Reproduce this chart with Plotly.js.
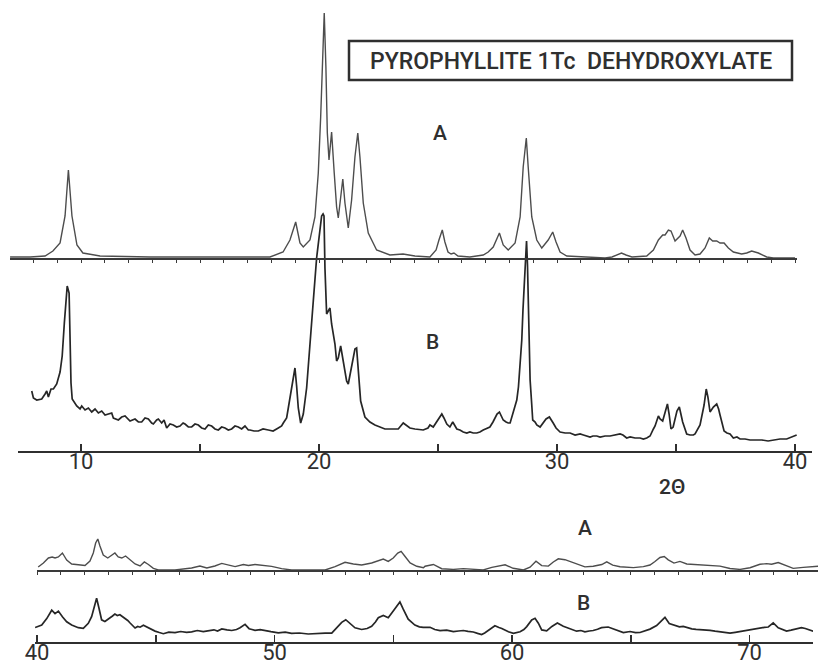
<!DOCTYPE html>
<html>
<head>
<meta charset="utf-8">
<script src="https://cdn.plot.ly/plotly-3.0.1.min.js"></script>
<style>html,body{margin:0;padding:0;background:#fff}#chart{width:819px;height:664px}</style>
</head>
<body>
<div id="chart"></div>
<script>
// ---- data: [2theta, intensity above own baseline] ----
var calcA_low = [[7.02,1],[7.86,1],[8.49,2],[8.82,7],[9.12,15],[9.33,42],[9.47,88],[9.62,42],[9.83,13],[10.08,5],[10.8,2],[12.9,1],[15.0,1],[17.1,1],[17.94,1],[18.49,6],[18.78,18],[19.02,36],[19.2,15],[19.34,11],[19.62,18],[19.83,41],[19.97,85],[20.07,141],[20.16,208],[20.22,245],[20.29,191],[20.35,125],[20.42,98],[20.53,126],[20.64,85],[20.74,51],[20.81,40],[20.91,61],[21.0,79],[21.09,55],[21.23,30],[21.37,58],[21.51,101],[21.63,125],[21.72,101],[21.86,55],[22.07,25],[22.42,8],[22.98,3],[23.53,4],[24.03,2],[24.66,1],[24.92,8],[25.04,18],[25.18,28],[25.29,16],[25.42,6],[25.55,4],[25.67,5],[25.84,2],[26.34,1],[26.9,3],[27.11,6],[27.32,11],[27.45,18],[27.58,25],[27.74,13],[27.95,8],[28.24,15],[28.45,41],[28.58,91],[28.71,120],[28.79,91],[28.94,41],[29.15,18],[29.36,10],[29.63,18],[29.82,26],[29.96,16],[30.13,6],[30.41,2],[31.09,1],[32.02,0],[32.31,1],[32.52,3],[32.71,5],[32.9,3],[33.15,1],[33.77,2],[34.05,8],[34.26,18],[34.44,23],[34.54,23],[34.68,28],[34.79,27],[34.96,17],[35.17,22],[35.28,28],[35.42,20],[35.59,8],[35.8,3],[36.01,4],[36.22,10],[36.4,20],[36.54,17],[36.71,17],[36.85,15],[37.02,15],[37.2,10],[37.41,6],[37.76,4],[37.97,5],[38.18,7],[38.46,5],[38.81,1],[39.09,0],[40.0,0]];

var obsB_low = [[7.93,60],[8.0,53],[8.14,51],[8.35,52],[8.49,57],[8.56,60],[8.63,54],[8.74,62],[8.84,62],[8.98,67],[9.12,79],[9.21,95],[9.3,128],[9.36,148],[9.42,165],[9.5,158],[9.54,112],[9.58,68],[9.63,52],[9.72,48],[9.82,45],[9.96,42],[10.03,45],[10.17,41],[10.31,43],[10.45,39],[10.59,42],[10.73,38],[10.87,40],[11.01,36],[11.15,37],[11.29,38],[11.36,33],[11.57,31],[11.71,34],[11.85,35],[12.06,30],[12.27,32],[12.41,29],[12.55,29],[12.69,33],[12.83,32],[12.97,28],[13.04,27],[13.18,31],[13.25,32],[13.39,28],[13.49,31],[13.6,23],[13.74,27],[13.88,26],[14.02,24],[14.16,25],[14.29,28],[14.37,27],[14.51,24],[14.65,24],[14.79,27],[14.93,26],[15.07,23],[15.21,22],[15.35,26],[15.49,25],[15.63,22],[15.77,21],[15.91,24],[16.05,23],[16.19,21],[16.33,22],[16.47,25],[16.61,24],[16.75,22],[16.89,25],[17.03,21],[17.1,21],[17.27,20],[17.45,20],[17.65,22],[17.87,21],[18.07,20],[18.29,23],[18.43,25],[18.5,28],[18.64,33],[18.71,43],[18.78,53],[18.85,63],[18.92,75],[18.99,83],[19.06,65],[19.13,43],[19.23,28],[19.34,37],[19.48,63],[19.62,103],[19.76,150],[19.9,193],[20.04,223],[20.11,235],[20.17,237],[20.21,235],[20.25,183],[20.32,137],[20.39,140],[20.46,143],[20.53,127],[20.67,107],[20.74,90],[20.81,93],[20.91,105],[21.02,90],[21.16,70],[21.23,67],[21.37,83],[21.51,102],[21.58,103],[21.65,77],[21.75,50],[21.93,34],[22.14,29],[22.35,26],[22.56,24],[22.77,22],[22.98,22],[23.19,22],[23.33,22],[23.54,28],[23.7,25],[23.82,23],[24.03,22],[24.24,21],[24.38,21],[24.58,23],[24.66,26],[24.8,24],[24.92,28],[25.01,31],[25.16,37],[25.25,33],[25.37,27],[25.5,24],[25.62,29],[25.79,22],[25.92,21],[26.06,19],[26.21,18],[26.34,19],[26.48,18],[26.63,18],[26.76,19],[26.9,21],[27.05,23],[27.18,24],[27.31,29],[27.39,33],[27.48,37],[27.58,39],[27.67,35],[27.74,31],[27.86,29],[27.95,28],[28.03,28],[28.16,38],[28.31,51],[28.38,64],[28.47,91],[28.52,111],[28.57,141],[28.63,166],[28.68,196],[28.72,210],[28.76,186],[28.79,151],[28.83,111],[28.87,71],[28.94,46],[28.98,31],[29.08,29],[29.15,26],[29.29,24],[29.43,28],[29.54,32],[29.68,34],[29.77,31],[29.84,28],[29.96,23],[30.13,19],[30.34,18],[30.55,18],[30.76,16],[30.97,17],[31.11,16],[31.26,15],[31.39,14],[31.51,15],[31.67,15],[31.81,14],[32.02,15],[32.23,15],[32.44,16],[32.65,17],[32.77,16],[32.93,13],[33.07,14],[33.28,13],[33.49,13],[33.63,12],[33.77,13],[33.91,15],[34.05,22],[34.12,25],[34.26,35],[34.33,32],[34.44,30],[34.54,39],[34.64,47],[34.71,37],[34.79,22],[34.88,24],[34.96,32],[35.04,40],[35.14,44],[35.21,37],[35.28,29],[35.45,17],[35.59,16],[35.73,16],[35.8,17],[36.01,26],[36.09,35],[36.18,46],[36.27,62],[36.34,54],[36.43,39],[36.51,42],[36.57,44],[36.71,47],[36.79,42],[36.85,36],[36.93,28],[37.02,20],[37.14,18],[37.27,17],[37.41,13],[37.56,14],[37.69,12],[37.9,12],[38.11,11],[38.39,11],[38.61,11],[38.87,10],[39.09,11],[39.37,12],[39.65,12],[39.87,14],[40.07,16]];

var calcA_high = [[40.05,3],[40.27,7],[40.48,12],[40.64,13],[40.76,12],[40.9,13],[41.07,17],[41.25,10],[41.46,6],[41.74,5],[42.02,4.5],[42.23,9],[42.37,17],[42.47,27],[42.56,31],[42.65,24],[42.79,15],[42.98,12],[43.17,15.5],[43.28,17],[43.42,13],[43.57,12],[43.73,14],[43.92,10.5],[44.13,6],[44.34,4],[44.52,8],[44.69,5.5],[44.9,1.7],[45.11,0],[45.81,0],[46.51,2],[46.86,4],[47.15,2],[47.49,4],[47.78,6.6],[48.05,5],[48.34,3.4],[48.69,5.5],[48.9,4.5],[49.18,5.5],[49.53,4.6],[49.88,3.6],[50.3,1.4],[50.72,0],[51.42,0],[52.13,0],[52.55,3.3],[52.97,7.7],[53.32,6],[53.67,5],[54.09,7],[54.37,9.5],[54.58,11],[54.79,8.6],[55.0,12],[55.19,17],[55.33,18.6],[55.49,13.7],[55.71,7],[55.99,3.7],[56.27,2.2],[56.34,3.8],[56.69,5.5],[57.04,1.3],[57.53,0.6],[57.95,1.4],[58.37,0.8],[58.79,0.1],[59.15,2.6],[59.71,5.2],[60.05,1.7],[60.48,0],[60.76,2.8],[61.01,8.8],[61.25,4.4],[61.53,3.9],[61.74,8],[61.95,11.2],[62.23,10.3],[62.51,8],[62.79,5.3],[63.07,3.1],[63.42,3.7],[63.78,5.5],[63.99,8.2],[64.24,4.9],[64.55,3.3],[65.11,2.4],[65.53,3.4],[65.81,5],[66.02,8.5],[66.23,12.5],[66.41,13.5],[66.58,10.2],[66.82,6.9],[67.07,8.6],[67.36,6],[67.78,5.3],[68.2,4.4],[68.76,3.9],[69.18,1.5],[69.6,0.6],[70.02,2.3],[70.44,5.7],[70.72,6.4],[70.93,5.7],[71.21,7.5],[71.49,5.2],[71.84,1.6],[72.26,2.6],[72.68,3.3],[72.9,3.7]];

var obsB_high = [[39.92,14.5],[39.99,15],[40.2,17],[40.41,23.4],[40.62,31.8],[40.76,28.4],[40.9,30.9],[41.07,25.2],[41.25,20.2],[41.46,17],[41.6,15.5],[41.74,14.3],[41.95,13.7],[42.16,18.7],[42.3,25.4],[42.44,37.1],[42.51,43.8],[42.61,33.8],[42.72,22.2],[42.86,20.5],[42.96,22.5],[43.07,23.9],[43.18,26],[43.28,27.9],[43.38,26.5],[43.49,27.3],[43.6,25.5],[43.71,24],[43.82,21.5],[43.92,19],[44.03,16],[44.13,14],[44.24,15.5],[44.34,14.8],[44.48,16.8],[44.69,14.1],[44.83,12],[44.97,10.9],[45.15,9.5],[45.32,8.3],[45.55,9.8],[45.81,9.4],[46.05,10.5],[46.3,9.6],[46.51,10.2],[46.75,11.5],[47.0,10.4],[47.21,11.3],[47.45,12.2],[47.6,11],[47.78,13.1],[48.0,12.2],[48.2,11.5],[48.4,12.5],[48.55,14.2],[48.76,17.6],[48.93,13.3],[49.05,12.5],[49.18,11.7],[49.4,12.3],[49.6,11.1],[49.85,10.3],[50.16,9.1],[50.45,9.8],[50.72,8.6],[51.05,9],[51.42,8],[51.8,8.8],[52.13,8.9],[52.41,8.9],[52.62,14],[52.83,19.6],[53.0,22.3],[53.18,18.4],[53.39,14.2],[53.55,13.2],[53.67,12.5],[53.9,13.5],[54.09,15.8],[54.25,20],[54.37,24.3],[54.58,26.6],[54.79,24.3],[55.0,31],[55.19,37.7],[55.28,40],[55.42,32.8],[55.63,22.8],[55.91,16.9],[56.1,15.2],[56.26,14.6],[56.55,14.7],[56.75,12.5],[56.97,11.4],[57.25,11.8],[57.53,10.4],[57.75,11],[57.95,11.5],[58.15,10.6],[58.37,10],[58.55,8.6],[58.72,7.4],[58.85,9],[59.0,11.7],[59.15,14.5],[59.28,16.2],[59.45,14.5],[59.57,13.5],[59.85,10.2],[60.06,8.6],[60.34,10.3],[60.5,12.5],[60.62,15.4],[60.83,22],[60.97,23.7],[61.11,18.8],[61.25,12.1],[61.46,11.1],[61.68,15.6],[61.91,18.9],[62.16,15.7],[62.3,14.5],[62.44,13.3],[62.72,10.8],[62.9,11.5],[63.07,10.1],[63.25,11],[63.42,11.5],[63.6,12.8],[63.77,14.3],[64.05,15],[64.33,12.6],[64.5,10.8],[64.69,9.4],[64.97,10.5],[65.2,9.4],[65.39,9.5],[65.6,11],[65.81,12.9],[66.09,16.4],[66.3,21.4],[66.44,24.7],[66.62,18.5],[66.86,16.5],[67.05,15.2],[67.21,15.6],[67.4,14.2],[67.57,13.2],[67.75,12.6],[67.92,12.3],[68.15,12.6],[68.34,11.7],[68.55,10.8],[68.76,10.1],[69.0,9.6],[69.18,8.8],[69.4,9.6],[69.6,10.5],[69.8,11.2],[70.02,12.3],[70.25,13.2],[70.44,14],[70.62,14.6],[70.79,15],[71.0,19.1],[71.21,14.2],[71.4,12.5],[71.56,10.9],[71.75,11.8],[71.91,12.6],[72.19,14.3],[72.35,13.5],[72.48,12.7],[72.68,10.8]];

var axisTicksLow = [10,15,20,25,30,35,40];
var axisLabelsLow = ['10','','20','','30','','40'];
var axisTicksHigh = [40,45,50,55,60,65,70];
var axisLabelsHigh = ['40','','50','','60','','70'];
var titleText = 'PYROPHYLLITE 1Tc\u00a0 DEHYDROXYLATE';

// ---- styling / geometry ----
var W = 819, H = 664;
var ink = '#2f2f2f';
function col(arr, i){ return arr.map(function(p){ return p[i]; }); }
function px(x){ return x / W; }
function py(y){ return 1 - y / H; }

var pxDegLow = 23.8, pxDegHigh = 23.75;
var traces = [
  {x: col(obsB_low,0), y: col(obsB_low,1), xaxis:'x', yaxis:'y', mode:'lines',
   line:{color:'#262626', width:1.7}, hoverinfo:'skip'},
  {x: col(calcA_low,0), y: col(calcA_low,1), xaxis:'x3', yaxis:'y3', mode:'lines',
   line:{color:'#4d4d4d', width:1.4}, hoverinfo:'skip'},
  {x: col(obsB_high,0), y: col(obsB_high,1), xaxis:'x2', yaxis:'y2', mode:'lines',
   line:{color:'#262626', width:1.7}, hoverinfo:'skip'},
  {x: col(calcA_high,0), y: col(calcA_high,1), xaxis:'x4', yaxis:'y4', mode:'lines',
   line:{color:'#4d4d4d', width:1.4}, hoverinfo:'skip'}
];

var labelFamily = 'Roboto, Liberation Sans, Arial, sans-serif';
var tickFont = {family:labelFamily, size:22, color:ink};
function mainX(domainPx, range, ticks, labels, anchor){
  return {domain:[px(domainPx[0]), px(domainPx[1])], range:range, anchor:anchor,
    showline:true, linecolor:ink, linewidth:2, ticks:'inside', ticklen:7, tickwidth:1.5,
    tickcolor:ink, tickmode:'array', tickvals:ticks, ticktext:labels, tickfont:tickFont,
    ticklabelstandoff:-10,
    showgrid:false, zeroline:false, fixedrange:true};
}
function baseX(domainPx, range, anchor){
  return {domain:[px(domainPx[0]), px(domainPx[1])], range:range, anchor:anchor,
    showline:true, linecolor:'#3a3a3a', linewidth:1.5, ticks:'outside', ticklen:3, tickwidth:1,
    tickcolor:'#3a3a3a', dtick:1, tick0:0, showticklabels:false,
    showgrid:false, zeroline:false, fixedrange:true};
}
function hiddenY(domainPx, anchor){
  // domainPx = [bottom pixel, top pixel]; one data unit = one pixel
  return {domain:[py(domainPx[0]), py(domainPx[1])], range:[0, domainPx[0]-domainPx[1]],
    anchor:anchor, visible:false, fixedrange:true};
}
function label(text, x, y, size){
  return {text:text, xref:'paper', yref:'paper', x:px(x), y:py(y), showarrow:false,
    xanchor:'center', yanchor:'middle', font:{family:labelFamily, size:size, color:ink, weight:500}};
}

var layout = {
  width:W, height:H, margin:{l:0,r:0,t:0,b:0},
  paper_bgcolor:'#ffffff', plot_bgcolor:'rgba(0,0,0,0)', showlegend:false,
  xaxis:  mainX([18,812], [10-(81-18)/pxDegLow, 10+(812-81)/pxDegLow], axisTicksLow, axisLabelsLow, 'y'),
  yaxis:  hiddenY([451,0], 'x'),
  xaxis3: baseX([10,797], [10-(81-10)/pxDegLow, 10+(797-81)/pxDegLow], 'y3'),
  yaxis3: hiddenY([258,0], 'x3'),
  xaxis2: mainX([35,813], [40-(37-35)/pxDegHigh, 40+(813-37)/pxDegHigh], axisTicksHigh, axisLabelsHigh, 'y2'),
  yaxis2: hiddenY([642,470], 'x2'),
  xaxis4: baseX([37,818], [40, 40+(818-37)/pxDegHigh], 'y4'),
  yaxis4: hiddenY([570,470], 'x4'),
  shapes:[{type:'rect', xref:'paper', yref:'paper', x0:px(349), x1:px(792), y0:py(80), y1:py(41),
           line:{color:ink, width:2.5}, fillcolor:'rgba(0,0,0,0)'}],
  annotations:[
    label(titleText, 571, 61, 23),
    label('A', 440, 133, 21),
    label('B', 432, 342, 21),
    label('2\u0398', 672, 487, 21),
    label('A', 585, 528, 21),
    label('B', 583, 603, 21)
  ]
};

Plotly.newPlot('chart', traces, layout, {staticPlot:true, displayModeBar:false});
</script>
</body>
</html>
